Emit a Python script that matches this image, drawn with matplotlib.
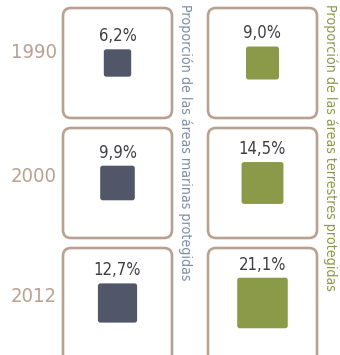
import matplotlib.pyplot as plt
from matplotlib.patches import FancyBboxPatch
import numpy as np

plt.rcParams['font.family'] = ['DejaVu Sans']
plt.rcParams['font.stretch'] = 'condensed'

years = ['1990', '2000', '2012']
marinas = [6.2, 9.9, 12.7]
terrestres = [9.0, 14.5, 21.1]
etiqueta_marinas = 'Proporción de las áreas marinas protegidas'
etiqueta_terrestres = 'Proporción de las áreas terrestres protegidas'

c_borde = '#b9a192'
c_marinas = '#515668'
c_terrestres = '#8b9a49'
c_azul = '#7d8ea6'

fig = plt.figure(figsize=(3.4, 3.55), dpi=100)
ax = fig.add_axes([0, 0, 1, 1])
ax.set_xlim(0, 340)
ax.set_ylim(355, 0)
ax.axis('off')

box_w, box_h, paso = 109, 110, 120
col_x = [63, 208]
k = 11.0  # lado del cuadrado ~ sqrt(valor)

for i, year in enumerate(years):
    y0 = 8 + i * paso
    cy = y0 + box_h / 2
    # la última fila queda cortada por el borde inferior
    alto = box_h + (20 if i == len(years) - 1 else 0)
    ax.text(34, cy - 6 + (i == 0) * -5, year, color=c_borde, fontsize=14.5,
            ha='center', va='center')
    for x0, vals, col in [(col_x[0], marinas, c_marinas),
                          (col_x[1], terrestres, c_terrestres)]:
        ax.add_patch(FancyBboxPatch((x0, y0), box_w, alto,
                                    boxstyle='round,pad=0,rounding_size=8',
                                    fc='white', ec=c_borde, lw=1.9))
        cx = x0 + box_w / 2
        lado = k * np.sqrt(vals[i])
        ax.add_patch(FancyBboxPatch((cx - lado / 2, cy - lado / 2), lado, lado,
                                    boxstyle='round,pad=0,rounding_size=2.5',
                                    fc=col, ec='none'))
        ax.text(cx, cy - lado / 2 - 4, f'{vals[i]:.1f}%'.replace('.', ','),
                color='#3e3e44', fontsize=12, ha='center', va='bottom')

ax.text(185, 4, etiqueta_marinas, rotation=-90, color=c_azul, fontsize=10.2,
        ha='center', va='top')
ax.text(330, 4, etiqueta_terrestres, rotation=-90, color=c_terrestres,
        fontsize=10.2, ha='center', va='top')

fig.savefig('out.png', dpi=100)
